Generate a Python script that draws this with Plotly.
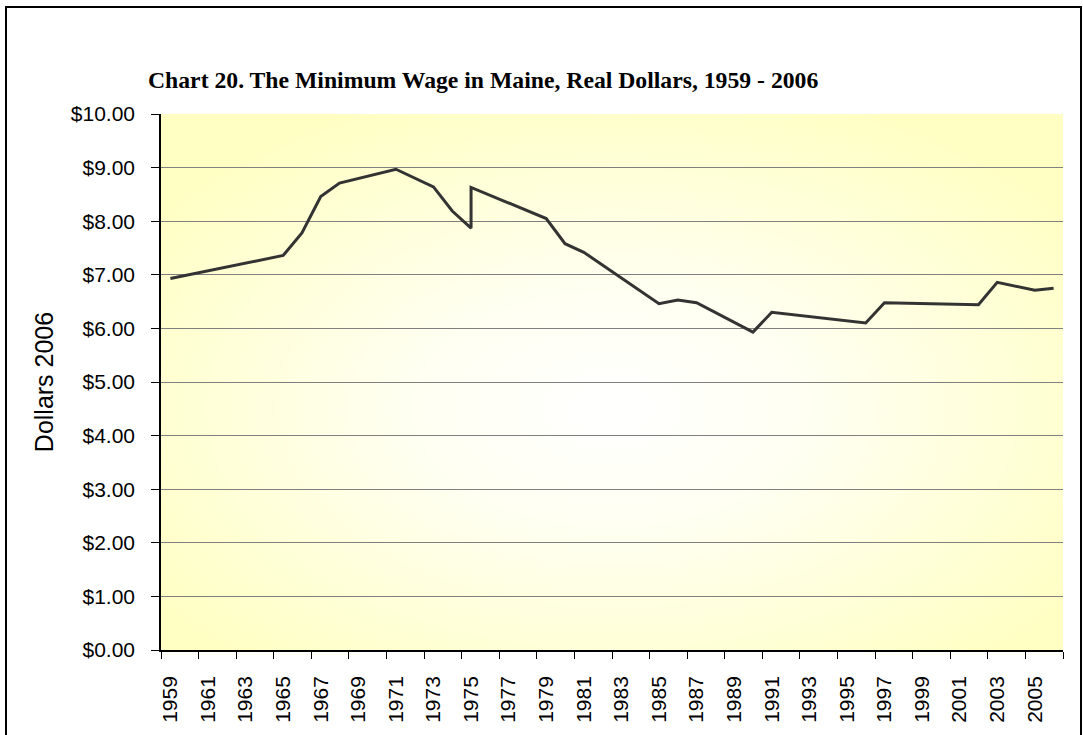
import base64
import plotly.graph_objects as go

# Data (years with visible vertices; 1975 has two values)
years = [1959, 1965, 1966, 1967, 1968, 1971, 1973, 1974, 1975, 1975, 1979, 1980,
         1981, 1985, 1986, 1987, 1990, 1991, 1996, 1997, 2002, 2003, 2005, 2006]
wage = [6.93, 7.36, 7.78, 8.46, 8.71, 8.97, 8.64, 8.19, 7.87, 8.63, 8.05, 7.58,
        7.42, 6.46, 6.53, 6.48, 5.93, 6.30, 6.10, 6.48, 6.44, 6.86, 6.71, 6.75]
tick_years = list(range(1959, 2006, 2))
tick_labels = [str(y) for y in tick_years]
y_ticks = list(range(0, 11))
y_labels = ["$%d.00" % v for v in y_ticks]

W, H = 1083, 735
L, R, T, B = 161, 20, 114, 85
pw = W - L - R
ph = H - T - B

svg = ('<svg xmlns="http://www.w3.org/2000/svg" width="900" height="536" preserveAspectRatio="none" viewBox="0 0 900 536">'
       '<defs><radialGradient id="g" cx="0.5" cy="0.55" r="0.62">'
       '<stop offset="0" stop-color="#FFFFFF"/>'
       '<stop offset="0.35" stop-color="#FFFFF2"/>'
       '<stop offset="1" stop-color="#FFFFC4"/>'
       '</radialGradient></defs>'
       '<rect x="0" y="0" width="900" height="536" fill="url(#g)"/></svg>')
src = "data:image/svg+xml;base64," + base64.b64encode(svg.encode()).decode()

fig = go.Figure()
fig.add_trace(go.Scatter(x=years, y=wage, mode="lines",
                         line=dict(color="#333333", width=3), showlegend=False))

fig.update_layout(
    width=W, height=H,
    margin=dict(l=L, r=R, t=T, b=B, autoexpand=False),
    paper_bgcolor="white",
    plot_bgcolor="rgba(0,0,0,0)",
    font=dict(family="Liberation Sans, Arial", size=21, color="black"),
    title=dict(text="<b>Chart 20. The Minimum Wage in Maine, Real Dollars, 1959 - 2006</b>",
               font=dict(family="Liberation Serif, Times New Roman", size=23.7, color="black"),
               x=148 / W, xanchor="left", y=1 - 80 / H, yanchor="middle"),
    images=[dict(source=src, xref="paper", yref="paper", x=0, y=1, sizex=1, sizey=1,
                 sizing="stretch", layer="below", xanchor="left", yanchor="top")],
    xaxis=dict(range=[1958.5, 2006.5], tickmode="array", tickvals=tick_years,
               ticktext=tick_labels, tickangle=-90, ticks="", showgrid=False,
               showline=True, linecolor="black", linewidth=1.5, zeroline=False,
               ticklabelstandoff=16,
               minor=dict(tick0=1958.5, dtick=2, ticks="outside", ticklen=7,
                          tickcolor="black", tickwidth=1, showgrid=False)),
    yaxis=dict(range=[0, 10], tickmode="array", tickvals=y_ticks, ticktext=y_labels,
               ticks="outside", ticklen=8, tickcolor="black", showgrid=True,
               gridcolor="#808080", gridwidth=1, showline=True, linecolor="black",
               linewidth=1.5, zeroline=False, ticklabelstandoff=12,
               title=dict(text="Dollars 2006", standoff=10)),
    shapes=[dict(type="rect", xref="paper", yref="paper",
                 x0=(6 - L) / pw, x1=(1081 - L) / pw,
                 y0=-0.5, y1=(H - B - 7) / ph,
                 line=dict(color="black", width=2), fillcolor="rgba(0,0,0,0)", layer="below")],
)

fig.write_html("out.html", config={"displayModeBar": False},
               post_script="document.body.style.margin='0';document.body.style.overflow='hidden';")
